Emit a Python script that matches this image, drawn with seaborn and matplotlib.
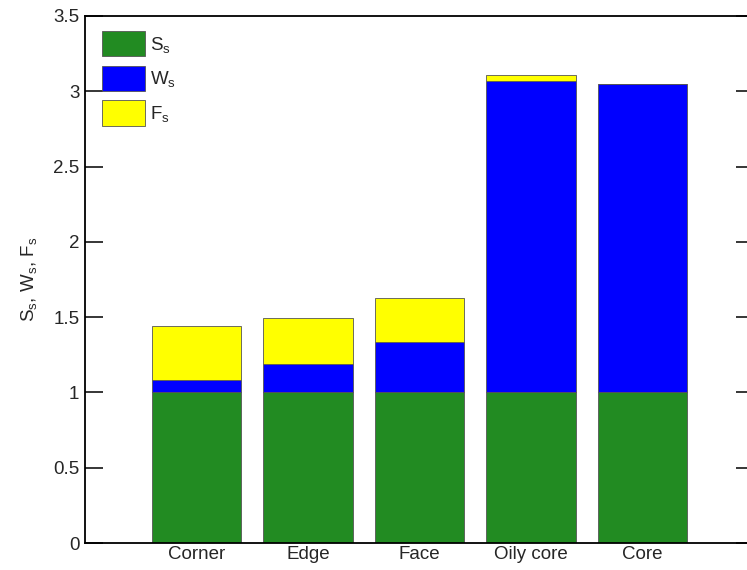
import numpy as np
import pandas as pd
import matplotlib
matplotlib.use("Agg")
import matplotlib.pyplot as plt
import seaborn as sns
from matplotlib.patches import Patch

# ─── DATA ─────────────────────────────────────────────────────────────────────
categories = ["Corner", "Edge", "Face", "Oily core", "Core"]
s_vals = [1.0, 1.0, 1.0, 1.0, 1.0]
w_vals = [0.08, 0.19, 0.335, 2.07, 2.05]
f_vals = [0.36, 0.305, 0.29, 0.04, 0.0]
y_ticks = [0, 0.5, 1, 1.5, 2, 2.5, 3, 3.5]
y_tick_labels = ["0", "0.5", "1", "1.5", "2", "2.5", "3", "3.5"]
# ──────────────────────────────────────────────────────────────────────────────

GREEN, BLUE, YELLOW = "#228B22", "#0000FF", "#FFFF00"
EDGE = "#555555"
FS = 13.5

sns.set_theme(style="white")
plt.rcParams["font.family"] = ["Liberation Sans", "DejaVu Sans"]
plt.rcParams["mathtext.fontset"] = "custom"
plt.rcParams["mathtext.rm"] = "Liberation Sans"
plt.rcParams["mathtext.it"] = "Liberation Sans"

df = pd.DataFrame({"cat": categories, "S": s_vals, "W": w_vals, "F": f_vals})
df["SW"] = df["S"] + df["W"]

fig = plt.figure(figsize=(7.47, 5.70), dpi=100)
ax = fig.add_axes([85 / 747, 27 / 570, (754 - 85) / 747, (543 - 16) / 570])

sns.barplot(data=df, x="cat", y="S", color=GREEN, width=0.8, saturation=1,
            edgecolor=EDGE, linewidth=0.6, ax=ax, order=categories)
sns.barplot(data=df, x="cat", y="W", bottom=df["S"], color=BLUE, width=0.8,
            saturation=1, edgecolor=EDGE, linewidth=0.6, ax=ax, order=categories)
sns.barplot(data=df, x="cat", y="F", bottom=df["SW"], color=YELLOW, width=0.8,
            saturation=1, edgecolor=EDGE, linewidth=0.6, ax=ax, order=categories)

ax.set_xlim(-1, 5)
ax.set_ylim(0, 3.5)
ax.set_yticks(y_ticks)
ax.set_yticklabels(y_tick_labels)
ax.set_xlabel("")
ax.set_ylabel(r"S$_\mathregular{s}$, W$_\mathregular{s}$, F$_\mathregular{s}$",
              fontsize=FS, labelpad=10)

ax.tick_params(axis="y", direction="in", length=13, width=1.3, left=True,
               right=True, labelsize=FS, pad=4)
ax.tick_params(axis="x", length=0, labelsize=FS, pad=2)

for side in ["left", "bottom", "top", "right"]:
    ax.spines[side].set_visible(True)
    ax.spines[side].set_color("black")
    ax.spines[side].set_linewidth(1.3)

handles = [Patch(facecolor=GREEN, edgecolor=EDGE, linewidth=0.6, label=r"S$_\mathregular{s}$"),
           Patch(facecolor=BLUE, edgecolor=EDGE, linewidth=0.6, label=r"W$_\mathregular{s}$"),
           Patch(facecolor=YELLOW, edgecolor=EDGE, linewidth=0.6, label=r"F$_\mathregular{s}$")]
ax.legend(handles=handles, loc="upper left", frameon=False, fontsize=FS,
          handlelength=2.3, handleheight=1.7, labelspacing=0.5,
          handletextpad=0.25, borderaxespad=0.4, bbox_to_anchor=(0.003, 1.0))

fig.savefig("out.png", dpi=100)
